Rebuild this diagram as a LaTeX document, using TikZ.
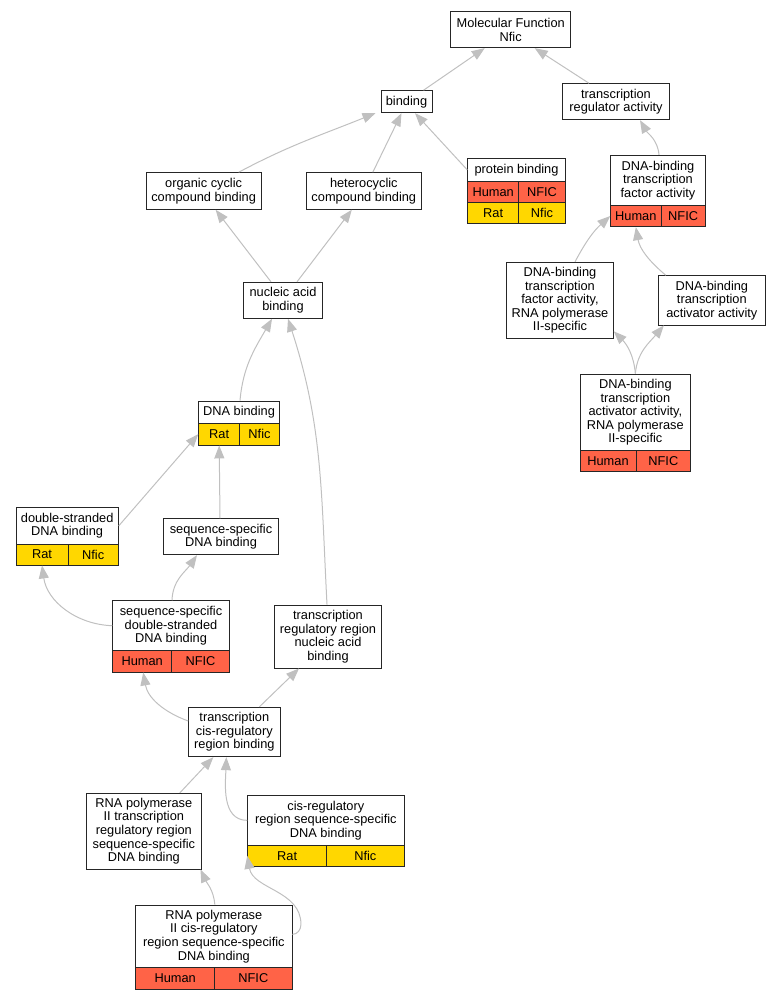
\documentclass[tikz,border=0pt]{standalone}
\usepackage{fontspec}
\setmainfont{Liberation Sans}
\usetikzlibrary{arrows.meta}
\newcommand\goterm[6]{
	\node[term, minimum width={#4-#2}, minimum height={#5-#3}]
	    (#1) at ({(#2+#4)/2},{-(#3+#5)/2}) {#6};
 }
\newcommand\gorow[9]{%
  \node[cell, fill=#9, minimum width={#3-#2}, minimum height={#6-#5}] (#1-a) at ({(#2+#3)/2},{-(#5+#6)/2}) {#7};
  \node[cell, fill=#9, minimum width={#4-#3}, minimum height={#6-#5}] (#1-b) at ({(#3+#4)/2},{-(#5+#6)/2}) {#8};}
\definecolor{human}{HTML}{FF6347}
\definecolor{rat}{HTML}{FFD700}
\definecolor{edgegray}{HTML}{C0C0C0}

\begin{document}
\begin{tikzpicture}[x=1pt,y=1pt,
	term/.style={draw=black!85, line width=0.9pt, fill=white, inner sep=0pt, align=center,
	  font=\fontsize{12.8}{13.6}\selectfont},
	cell/.style={term},
	edge/.style={draw=edgegray, line width=1pt, -{Triangle[length=13pt,width=10pt]}}]
		\useasboundingbox (0,0) rectangle (781,-1000);
		\goterm{mf}{450.7}{11.7}{570.7}{47.7}{Molecular Function\\Nfic}
		\goterm{tra}{562.7}{83.7}{669.3}{119.7}{transcription\\regulator activity}
		\goterm{bind}{381}{90.7}{432}{112.7}{binding}
		\goterm{protb}{467.7}{158.7}{565.3}{181}{protein binding}
		\gorow{protb-h}{467.7}{518.7}{565.3}{181}{202.7}{Human}{NFIC}{human}
		\gorow{protb-r}{467.7}{518.7}{565.3}{202.7}{223.7}{Rat}{Nfic}{rat}
		\goterm{dbtf}{610.7}{155.3}{705.3}{205.3}{DNA-binding\\transcription\\factor activity}
		\gorow{dbtf-h}{610.7}{661}{705.3}{205.3}{226.7}{Human}{NFIC}{human}
		\goterm{orgc}{146}{172.7}{261.3}{209.3}{organic cyclic\\compound binding}
		\goterm{hetc}{306.3}{172.7}{421.3}{209.3}{heterocyclic\\compound binding}
		\goterm{nucl}{243.3}{282.3}{322.7}{318.3}{nucleic acid\\binding}
		\goterm{dbtf2}{506.7}{262.3}{613.3}{338.3}{DNA-binding\\transcription\\factor activity,\\RNA polymerase\\II-specific}
		\goterm{actv}{658.3}{275.7}{765.3}{325}{DNA-binding\\transcription\\activator activity}
		\goterm{actv2}{580}{374}{690.7}{450.7}{DNA-binding\\transcription\\activator activity,\\RNA polymerase\\II-specific}
		\gorow{actv2-h}{580}{636}{690.7}{450.7}{471.7}{Human}{NFIC}{human}
		\goterm{dnab}{198.7}{401}{279.3}{423.3}{DNA binding}
		\gorow{dnab-r}{198.7}{239.7}{279.3}{423.3}{445}{Rat}{Nfic}{rat}
		\goterm{ds}{16}{507.7}{118.3}{544}{double-stranded\\DNA binding}
		\gorow{ds-r}{16}{68}{118.3}{544}{565}{Rat}{Nfic}{rat}
		\goterm{ssd}{163.3}{518.7}{278.7}{554.7}{sequence-specific\\DNA binding}
		\goterm{ssds}{112.7}{600.7}{229.3}{650.7}{sequence-specific\\double-stranded\\DNA binding}
		\gorow{ssds-h}{112.7}{171.7}{229.3}{650.7}{672}{Human}{NFIC}{human}
		\goterm{trnuc}{274.3}{605}{381.7}{668}{transcription\\regulatory region\\nucleic acid\\binding}
		\goterm{tcr}{188.7}{707.3}{280}{756.7}{transcription\\cis-regulatory\\region binding}
		\goterm{rtr}{86.7}{793.3}{201}{869}{RNA polymerase\\II transcription\\regulatory region\\sequence-specific\\DNA binding}
		\goterm{cisr}{247.7}{795.7}{404}{845}{cis-regulatory\\region sequence-specific\\DNA binding}
		\gorow{cisr-r}{247.7}{326.7}{404}{845}{866.7}{Rat}{Nfic}{rat}
		\goterm{rcis}{135.7}{905}{292}{967.7}{RNA polymerase\\II cis-regulatory\\region sequence-specific\\DNA binding}
		\gorow{rcis-h}{135.7}{214.7}{292}{967.7}{989.3}{Human}{NFIC}{human}
		% is_a links, child to parent
		\draw[edge] ([xshift=17pt]bind.north) -- ([xshift=-26pt]mf.south);
		\draw[edge] ([xshift=-27pt]tra.north) -- ([xshift=24pt]mf.south);
		\draw[edge] ([xshift=35pt]orgc.north) to[out=28,in=-158] ([xshift=-31pt]bind.south);
		\draw[edge] ([xshift=9pt]hetc.north) -- ([xshift=-5pt]bind.south);
		\draw[edge] (protb.west) -- ([xshift=8.5pt]bind.south);
		\draw[edge] ([xshift=1pt]dbtf.north) to[out=95,in=-60] ([xshift=24pt]tra.south);
		\draw[edge] ([xshift=-12pt]nucl.north) -- ([xshift=12pt]orgc.south);
		\draw[edge] ([xshift=14pt]nucl.north) -- ([xshift=-12pt]hetc.south);
		\draw[edge] ([xshift=15pt]dbtf2.north) to[out=62,in=-138] (dbtf-h-a.west);
		\draw[edge] ([xshift=-46pt]actv.north) to[out=140,in=-80] (dbtf-h-a.south);
		\draw[edge] (actv2.north) to[out=95,in=-45] ([yshift=-31pt]dbtf2.east);
		\draw[edge] (actv2.north) to[out=85,in=-130] ([xshift=-48pt]actv.south);
		\draw[edge] ([xshift=1pt]dnab.north) to[out=85,in=-120] ([xshift=-11pt]nucl.south);
		\draw[edge] ([xshift=-1pt]trnuc.north) to[out=93,in=-72] ([xshift=5pt]nucl.south);
		\draw[edge] (ds.east) -- (dnab-r-a.west);
		\draw[edge] ([xshift=-1pt]ssd.north) -- (dnab-r-a.south);
		\draw[edge] (ssds.west) to[out=178,in=-82] (ds-r-a.south);
		\draw[edge] ([xshift=1pt]ssds.north) to[out=88,in=-125] ([xshift=-24pt]ssd.south);
		\draw[edge] ([yshift=11pt]tcr.west) to[out=160,in=-80] ([xshift=1pt]ssds-h-a.south);
		\draw[edge] ([xshift=25pt]tcr.north) -- ([xshift=-29pt]trnuc.south);
		\draw[edge] ([xshift=36pt]rtr.north) -- ([xshift=-21pt]tcr.south);
		\draw[edge] (cisr.west) to[out=180,in=-92] ([xshift=-8pt]tcr.south);
		\draw[edge] ([xshift=1pt]rcis.north) to[out=95,in=-65] ([xshift=-1pt]rtr.south east);
		\draw[edge] ([yshift=2pt]rcis.east) to[out=0,in=-90] ++(8.5,10) to[out=90,in=-80] (cisr-r-a.west);
	\end{tikzpicture}
\end{document}
